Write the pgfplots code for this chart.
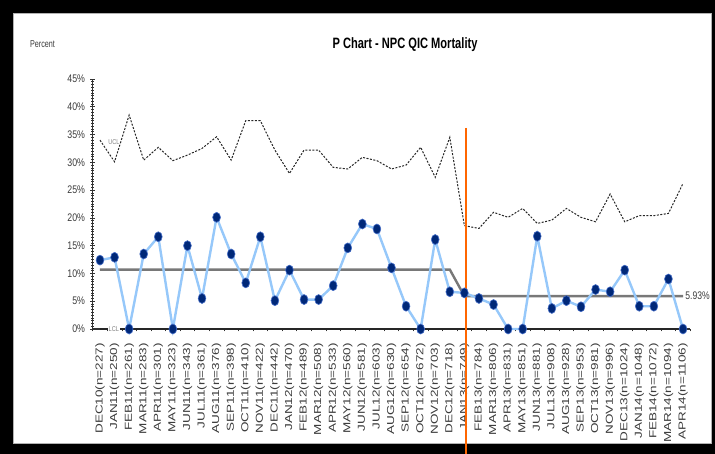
\documentclass[border=0pt]{standalone}
\usepackage{fontspec}
\setmainfont{Liberation Sans}
\usepackage{graphicx}
\usepackage{pgfplots}
\pgfplotsset{compat=1.18}
\definecolor{navy}{RGB}{0,40,120}
\definecolor{lblue}{RGB}{150,200,250}
\definecolor{mring}{RGB}{70,110,200}
\definecolor{clgray}{RGB}{120,120,120}
\definecolor{orng}{RGB}{255,102,0}
\definecolor{txt}{RGB}{60,60,60}
\newcommand\XL[1]{\scalebox{1}[0.75]{#1}}
\begin{document}
\begin{tikzpicture}[x=1pt,y=1pt]
\useasboundingbox (0,0) rectangle (715,454);
\fill[black] (0,0) rectangle (715,454);
\fill[white] (13,10) rectangle (712,441);
\draw[gray!60, line width=1.2pt] (13.6,10.6) rectangle (711.4,440.4);
\begin{axis}[
 at={(92.7pt,125pt)}, anchor=south west, scale only axis,
 width=597.6pt, height=250pt,
 xmin=-0.5, xmax=40.5, ymin=0, ymax=45,
 axis x line=bottom, axis y line=left,
 axis line style={-, black!80, line width=1.1pt},
 clip=false,
 xtick={0,...,40},
 minor xtick={-0.5,0.5,...,40.5},
 xticklabels={\XL{DEC10(n=227)},\XL{JAN11(n=250)},\XL{FEB11(n=261)},\XL{MAR11(n=283)},\XL{APR11(n=301)},\XL{MAY11(n=323)},\XL{JUN11(n=343)},\XL{JUL11(n=361)},\XL{AUG11(n=376)},\XL{SEP11(n=398)},\XL{OCT11(n=410)},\XL{NOV11(n=422)},\XL{DEC11(n=442)},\XL{JAN12(n=470)},\XL{FEB12(n=489)},\XL{MAR12(n=508)},\XL{APR12(n=533)},\XL{MAY12(n=560)},\XL{JUN12(n=581)},\XL{JUL12(n=603)},\XL{AUG12(n=630)},\XL{SEP12(n=654)},\XL{OCT12(n=672)},\XL{NOV12(n=703)},\XL{DEC12(n=718)},\XL{JAN13(n=749)},\XL{FEB13(n=784)},\XL{MAR13(n=806)},\XL{APR13(n=831)},\XL{MAY13(n=851)},\XL{JUN13(n=881)},\XL{JUL13(n=908)},\XL{AUG13(n=928)},\XL{SEP13(n=953)},\XL{OCT13(n=981)},\XL{NOV13(n=996)},\XL{DEC13(n=1024)},\XL{JAN14(n=1048)},\XL{FEB14(n=1072)},\XL{MAR14(n=1094)},\XL{APR14(n=1106)}},
 xticklabel style={rotate=90, anchor=east, inner sep=0pt, font=\fontsize{13.5}{14}\selectfont, text=txt},
 xticklabel shift=9pt,
 ytick={0,5,...,45},
 yticklabels={0\%,5\%,10\%,15\%,20\%,25\%,30\%,35\%,40\%,45\%},
 minor y tick num=9,
 yticklabel style={font=\fontsize{11}{11}\selectfont, xscale=0.8, text=txt, anchor=east, inner sep=0pt},
 yticklabel shift=5pt,
 tick style={black!80, line width=0.6pt},
 major tick style={draw=none},
 major tick length=5pt, minor tick length=2.5pt,
 xtick align=outside, ytick align=center,
 extra y ticks={0,5,...,45}, extra y tick labels={},
 extra y tick style={major tick style={draw=black!80, line width=0.7pt}},
]
\addplot[black!85, line width=1pt, dash pattern=on 2pt off 1.5pt] coordinates {
(0,34.0)(1,30.1)(2,38.5)(3,30.4)(4,32.7)(5,30.3)(6,31.3)(7,32.5)(8,34.6)(9,30.4)
(10,37.5)(11,37.5)(12,32.2)(13,28.0)(14,32.2)(15,32.2)(16,29.1)(17,28.8)(18,30.9)(19,30.3)
(20,28.8)(21,29.5)(22,32.7)(23,27.3)(24,34.5)(25,18.6)(26,18.1)(27,21.0)(28,20.1)(29,21.7)
(30,19.0)(31,19.6)(32,21.7)(33,20.1)(34,19.3)(35,24.3)(36,19.3)(37,20.4)(38,20.4)(39,20.8)(40,26.2)};
\addplot[clgray, line width=2.4pt] coordinates {(0,10.7)(24,10.7)(25,5.93)(40,5.93)};
\addplot[black!85, line width=1.5pt] coordinates {(0,0)(40,0)};
\addplot[lblue, line width=2.4pt, mark=*, mark size=5pt, mark options={xscale=0.78, fill=navy, draw=mring, line width=0.6pt}] coordinates {
(0,12.4)(1,12.9)(2,0)(3,13.5)(4,16.6)(5,0)(6,15.0)(7,5.5)(8,20.1)(9,13.5)
(10,8.3)(11,16.6)(12,5.1)(13,10.6)(14,5.3)(15,5.3)(16,7.8)(17,14.6)(18,18.9)(19,18.0)
(20,11.0)(21,4.1)(22,0)(23,16.1)(24,6.7)(25,6.5)(26,5.5)(27,4.4)(28,0)(29,0)
(30,16.7)(31,3.7)(32,5.1)(33,4.0)(34,7.1)(35,6.7)(36,10.6)(37,4.1)(38,4.1)(39,9.0)(40,0)};
\addplot[orng, line width=2pt] coordinates {(25.1,36.2)(25.1,-22.6)};
\node[font=\fontsize{7}{7}\selectfont, text=gray, xscale=0.8] at (axis cs:0.96,33.6) {UCL};
\node[font=\fontsize{7}{7}\selectfont, text=gray, xscale=0.8, fill=white, inner sep=0.8pt] at (axis cs:0.95,0) {LCL};
\node[anchor=west, inner sep=0pt, text=txt, font=\fontsize{11}{11}\selectfont, xscale=0.78] at (axis cs:40.15,5.93) {5.93\%};
\end{axis}
\node[font=\bfseries\fontsize{15}{15}\selectfont, xscale=0.74] at (405,409) {P Chart - NPC QIC Mortality};
\node[font=\fontsize{10}{10}\selectfont, xscale=0.72, anchor=west, text=txt, inner sep=0pt] at (30,410) {Percent};
\end{tikzpicture}
\end{document}
